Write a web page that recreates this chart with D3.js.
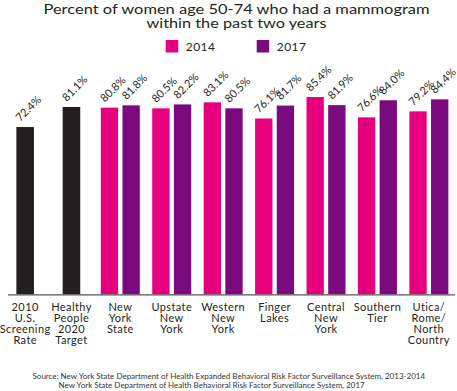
<!DOCTYPE html>
<html>
<head>
<meta charset="utf-8">
<script src="https://cdn.jsdelivr.net/npm/d3@7"></script>
<style>
  body { margin: 0; background: #fff; }
  svg { display: block; font-family: Lato, "Open Sans", sans-serif; }
</style>
</head>
<body>
<svg id="chart"></svg>
<script>
// Data
const benchmarkLabels = [
  ["2010", "U.S.", "Screening", "Rate"],
  ["Healthy", "People", "2020", "Target"]
];
const benchmarkValues = [72.4, 81.1];

const regionLabels = [
  ["New", "York", "State"],
  ["Upstate", "New", "York"],
  ["Western", "New", "York"],
  ["Finger", "Lakes"],
  ["Central", "New", "York"],
  ["Southern", "Tier"],
  ["Utica/", "Rome/", "North", "Country"]
];
const years = ["2014", "2017"];
const values2014 = [80.8, 80.5, 83.1, 76.1, 85.4, 76.6, 79.2];
const values2017 = [81.8, 82.2, 80.5, 81.7, 81.9, 84.0, 84.4];

const colors = { "2014": "#e6007e", "2017": "#7a0a7d", bench: "#231f20" };

const width = 457, height = 391;
const baseY = 294.3;

const svg = d3.select("#chart")
  .attr("width", width)
  .attr("height", height);

// Scales
const y = d3.scaleLinear()
  .domain([0, 100])
  .range([baseY, 63.3]);

const xBench = d3.scaleBand()
  .domain(d3.range(benchmarkValues.length))
  .range([2, 94.6])
  .paddingInner(0.62)
  .paddingOuter(0.31);

const xRegion = d3.scaleBand()
  .domain(d3.range(regionLabels.length))
  .range([94.6, 454.6]);

const xYear = d3.scaleBand()
  .domain(years)
  .range([6.2, 45.2])
  .paddingInner(0.2);

const barW = xYear.bandwidth();

// Title (stretched to the wide face of the original)
const title = svg.append("g")
  .attr("font-size", 14)
  .attr("fill", "#231f20")
  .attr("text-anchor", "middle");
title.append("text").attr("x", 236.5).attr("y", 13.5)
  .attr("textLength", 386).attr("lengthAdjust", "spacingAndGlyphs")
  .text("Percent of women age 50-74 who had a mammogram");
title.append("text").attr("x", 236.5).attr("y", 27.8)
  .attr("textLength", 180).attr("lengthAdjust", "spacingAndGlyphs")
  .text("within the past two years");

// Legend
const legend = svg.append("g").attr("font-size", 12).attr("fill", "#231f20");
years.forEach((yr, i) => {
  const lx = 165.7 + i * 91;
  legend.append("rect")
    .attr("x", lx).attr("y", 40)
    .attr("width", 12.5).attr("height", 12.5)
    .attr("fill", colors[yr]);
  legend.append("text")
    .attr("x", lx + 20).attr("y", 50.8)
    .attr("letter-spacing", 0.5)
    .text(yr);
});

// Value label helper
function valueLabel(x0, v) {
  svg.append("text")
    .attr("transform", `translate(${x0 + 4},${y(v) - 5}) rotate(-45)`)
    .attr("font-size", 11)
    .attr("fill", "#231f20")
    .text(v.toFixed(1) + "%");
}

// Benchmark bars
benchmarkValues.forEach((v, i) => {
  svg.append("rect")
    .attr("x", xBench(i))
    .attr("y", y(v))
    .attr("width", xBench.bandwidth())
    .attr("height", baseY - y(v))
    .attr("fill", colors.bench);
  valueLabel(xBench(i), v);
});

// Region bars
const seriesVals = { "2014": values2014, "2017": values2017 };
regionLabels.forEach((lab, i) => {
  years.forEach(yr => {
    const v = seriesVals[yr][i];
    const bx = xRegion(i) + xYear(yr);
    svg.append("rect")
      .attr("x", bx)
      .attr("y", y(v))
      .attr("width", barW)
      .attr("height", baseY - y(v))
      .attr("fill", colors[yr]);
    valueLabel(bx, v);
  });
});

// Baseline
svg.append("line")
  .attr("x1", 8).attr("x2", 455)
  .attr("y1", baseY + 0.5).attr("y2", baseY + 0.5)
  .attr("stroke", "#555")
  .attr("stroke-width", 1.3);

// Category labels
function categoryLabel(cx, lines) {
  const t = svg.append("text")
    .attr("text-anchor", "middle")
    .attr("font-size", 11)
    .attr("letter-spacing", 0.4)
    .attr("fill", "#231f20");
  lines.forEach((ln, k) => {
    t.append("tspan").attr("x", cx).attr("y", 311 + k * 11.1).text(ln);
  });
}
benchmarkLabels.forEach((lab, i) => categoryLabel(xBench(i) + xBench.bandwidth() / 2, lab));
regionLabels.forEach((lab, i) => categoryLabel(xRegion(i) + xRegion.bandwidth() / 2, lab));

// Source note
const srcSize = 8;
const src1 = svg.append("text")
  .attr("x", 228.8).attr("y", 379.3)
  .attr("text-anchor", "middle")
  .attr("font-size", srcSize)
  .attr("fill", "#333")
  .text("Source: New York State Department of Health Expanded Behavioral Risk Factor Surveillance System, 2013-2014");
const box = src1.node().getBBox();
const prefix = svg.append("text").attr("font-size", srcSize).text("Source: ");
const prefixW = prefix.node().getComputedTextLength();
prefix.remove();
svg.append("text")
  .attr("x", box.x + prefixW).attr("y", 387.5)
  .attr("font-size", srcSize)
  .attr("fill", "#333")
  .text("New York State Department of Health Behavioral Risk Factor Surveillance System, 2017");
</script>
</body>
</html>
